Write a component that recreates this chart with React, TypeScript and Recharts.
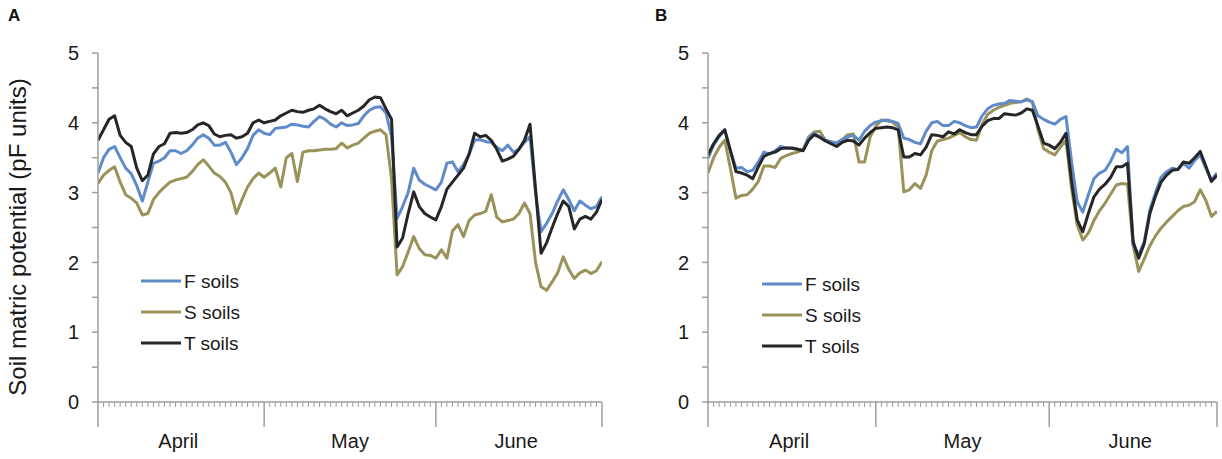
import { LineChart, Line, XAxis, YAxis } from "recharts";

// day index from 1 April (0) to 30 June (91)
const DAYS = [
  0, 1, 2, 3, 4, 5, 6, 7, 8, 9, 10, 11, 12, 13, 14, 15, 16, 17, 18, 19, 20, 21, 22, 23,
  24, 25, 26, 27, 28, 29, 30, 31, 32, 33, 34, 35, 36, 37, 38, 39, 40, 41, 42, 43, 44, 45,
  46, 47, 48, 49, 50, 51, 52, 53, 54, 55, 56, 57, 58, 59, 60, 61, 62, 63, 64, 65, 66, 67,
  68, 69, 70, 71, 72, 73, 74, 75, 76, 77, 78, 79, 80, 81, 82, 83, 84, 85, 86, 87, 88, 89,
  90, 91,
];

const MONTHS = ["April", "May", "June"];
const MONTH_EDGES = [0, 30, 61, 91];
const MONTH_LABEL_AT = [14.5, 45.5, 75.5];
const Y_TICKS = [0, 0.5, 1, 1.5, 2, 2.5, 3, 3.5, 4, 4.5, 5];

// Panel A
const A_F = [
  3.28, 3.5, 3.62, 3.66, 3.5, 3.35, 3.27, 3.1, 2.88, 3.15, 3.42, 3.45, 3.5, 3.6, 3.6, 3.56,
  3.6, 3.68, 3.78, 3.83, 3.78, 3.68, 3.68, 3.72, 3.58, 3.4, 3.5, 3.63, 3.82, 3.9, 3.85, 3.83,
  3.92, 3.93, 3.94, 3.98, 3.97, 3.95, 3.94, 4.02, 4.09, 4.05, 3.98, 3.94, 4.0, 3.96, 3.97,
  3.99, 4.1, 4.18, 4.22, 4.23, 4.14, 3.8, 2.63, 2.8, 3.0, 3.35, 3.18, 3.12, 3.08, 3.04, 3.15,
  3.42, 3.44, 3.3, 3.4, 3.55, 3.75, 3.76, 3.73, 3.72, 3.65, 3.6, 3.68, 3.58, 3.62, 3.72, 3.8,
  3.0, 2.44, 2.56, 2.7, 2.88, 3.04, 2.9, 2.74, 2.88, 2.82, 2.77, 2.8, 2.94,
];
const A_S = [
  3.13, 3.25, 3.32, 3.37, 3.15, 2.97, 2.92, 2.85, 2.68, 2.7, 2.9, 3.0, 3.08, 3.15, 3.18, 3.2,
  3.22, 3.3, 3.4, 3.47, 3.38, 3.28, 3.23, 3.15, 3.0, 2.7, 2.9, 3.08, 3.2, 3.28, 3.22, 3.28,
  3.35, 3.08, 3.5, 3.56, 3.16, 3.58, 3.6, 3.6, 3.61, 3.62, 3.62, 3.63, 3.71, 3.64, 3.68, 3.71,
  3.78, 3.85, 3.88, 3.9, 3.83, 3.2, 1.82, 1.94, 2.15, 2.37, 2.2, 2.11, 2.1, 2.06, 2.18, 2.06,
  2.45, 2.54, 2.37, 2.6, 2.68, 2.7, 2.73, 2.97, 2.65, 2.58, 2.6, 2.62, 2.7, 2.85, 2.7, 2.0,
  1.65, 1.6, 1.72, 1.85, 2.08, 1.9, 1.77, 1.85, 1.89, 1.84, 1.88, 2.01,
];
const A_T = [
  3.75, 3.9, 4.05, 4.1, 3.82, 3.72, 3.66, 3.35, 3.17, 3.25, 3.55, 3.66, 3.7, 3.85, 3.86, 3.85,
  3.86, 3.9, 3.97, 4.0, 3.96, 3.84, 3.8, 3.82, 3.83, 3.78, 3.8, 3.85, 4.0, 4.04, 4.0, 4.02,
  4.04, 4.1, 4.14, 4.18, 4.16, 4.15, 4.18, 4.2, 4.25, 4.2, 4.16, 4.13, 4.18, 4.1, 4.14, 4.18,
  4.24, 4.33, 4.37, 4.36, 4.2, 4.05, 2.22, 2.35, 2.7, 3.01, 2.8, 2.7, 2.65, 2.61, 2.8, 3.05,
  3.15, 3.25, 3.35, 3.55, 3.85, 3.8, 3.82, 3.75, 3.62, 3.45, 3.48, 3.52, 3.62, 3.75, 3.98,
  3.05, 2.13, 2.28, 2.5, 2.7, 2.88, 2.8, 2.48, 2.62, 2.66, 2.62, 2.72, 2.9,
];

// Panel B
const B_F = [
  3.49, 3.68, 3.8, 3.9, 3.6, 3.35, 3.36, 3.3, 3.32, 3.44, 3.58, 3.55, 3.6, 3.66, 3.64, 3.63,
  3.62, 3.61, 3.78, 3.85, 3.8, 3.75, 3.72, 3.71, 3.76, 3.8, 3.82, 3.75, 3.88, 3.96, 4.01, 4.03,
  4.04, 4.02, 3.99, 3.78, 3.76, 3.72, 3.7, 3.88, 4.0, 4.02, 3.96, 3.96, 4.02, 4.0, 3.96, 3.93,
  3.94, 4.1, 4.2, 4.25, 4.27, 4.28, 4.32, 4.31, 4.3, 4.33, 4.3, 4.1, 4.05, 4.01, 3.98, 4.05,
  4.09, 3.44, 2.87, 2.72, 2.97, 3.2, 3.28, 3.32, 3.45, 3.62, 3.57, 3.66, 2.25, 2.11, 2.3, 2.75,
  3.0, 3.22, 3.3, 3.35, 3.33, 3.42, 3.35, 3.46, 3.54, 3.35, 3.18, 3.28,
];
const B_S = [
  3.28, 3.5, 3.65, 3.75, 3.35, 2.92, 2.96, 2.97, 3.05, 3.16, 3.38, 3.38, 3.36, 3.49, 3.53,
  3.56, 3.58, 3.62, 3.8, 3.87, 3.88, 3.75, 3.73, 3.71, 3.76, 3.83, 3.84, 3.44, 3.44, 3.8, 3.95,
  4.04, 4.03, 4.01, 3.94, 3.01, 3.04, 3.13, 3.06, 3.25, 3.6, 3.74, 3.76, 3.78, 3.82, 3.86, 3.8,
  3.76, 3.75, 3.98, 4.12, 4.18, 4.22, 4.25, 4.28, 4.29, 4.3, 4.34, 4.3, 3.9, 3.63, 3.58, 3.54,
  3.65, 3.75, 3.06, 2.54, 2.32, 2.42, 2.6, 2.74, 2.85, 2.98, 3.11, 3.13, 3.12, 2.25, 1.87, 2.05,
  2.24, 2.38, 2.49, 2.58, 2.66, 2.74, 2.8, 2.82, 2.87, 3.04, 2.89, 2.66, 2.73,
];
const B_T = [
  3.54, 3.7, 3.82, 3.9, 3.6, 3.3, 3.28, 3.25, 3.2, 3.37, 3.52, 3.56, 3.58, 3.63, 3.64, 3.64,
  3.62, 3.6, 3.75, 3.83, 3.79, 3.74, 3.7, 3.66, 3.72, 3.75, 3.74, 3.68, 3.78, 3.86, 3.92, 3.93,
  3.94, 3.93, 3.9, 3.51, 3.51, 3.56, 3.54, 3.65, 3.83, 3.82, 3.8, 3.87, 3.84, 3.9, 3.86, 3.83,
  3.83, 3.95, 4.03, 4.06, 4.06, 4.13, 4.12, 4.11, 4.14, 4.2, 4.18, 3.95, 3.71, 3.68, 3.63, 3.72,
  3.85, 3.16, 2.61, 2.44, 2.7, 2.94, 3.05, 3.12, 3.22, 3.37, 3.37, 3.42, 2.3, 2.06, 2.27, 2.7,
  2.95, 3.15, 3.25, 3.32, 3.33, 3.44, 3.42, 3.5, 3.59, 3.38, 3.16, 3.25,
];

const COLORS = { F: "#5f8bcb", S: "#9a9258", T: "#262626" };
const AXIS = "#9e9e9e";
const FONT = "'Liberation Sans', Arial, sans-serif";

// S is drawn first so F and T sit on top of it
const DRAW_ORDER = ["S", "F", "T"] as const;
const LEGEND_ORDER = ["F", "S", "T"] as const;

// daily minor ticks plus the positions where month names are written
const X_TICKS = [...DAYS, ...MONTH_LABEL_AT].sort((a, b) => a - b);

const buildData = (f: number[], s: number[], t: number[]) =>
  DAYS.map((day, i) => ({ day, F: f[i], S: s[i], T: t[i] }));

const DATA_A = buildData(A_F, A_S, A_T);
const DATA_B = buildData(B_F, B_S, B_T);

// one tick per day; month boundaries get a long tick, month centres get the name
function DayTick(props: any) {
  const { x, y, payload } = props;
  const v = payload.value as number;
  const m = MONTH_LABEL_AT.indexOf(v);
  if (m >= 0) {
    return (
      <text x={x} y={y + 46} textAnchor="middle" fontSize={20} fontFamily={FONT} fill="#1a1a1a">
        {MONTHS[m]}
      </text>
    );
  }
  const edge = MONTH_EDGES.includes(v);
  return (
    <line
      x1={x}
      x2={x}
      y1={y}
      y2={y + (edge ? 25 : 5)}
      stroke={AXIS}
      strokeWidth={edge ? 1.5 : 1}
    />
  );
}

interface PanelProps {
  letter: string;
  data: ReturnType<typeof buildData>;
  left: number;
  yAxisWidth: number;
  rightMargin: number;
  legendX: number;
  legendY: number;
}

function Panel({ letter, data, left, yAxisWidth, rightMargin, legendX, legendY }: PanelProps) {
  return (
    <div style={{ position: "absolute", left, top: 0, width: 611, height: 459 }}>
      <div
        style={{
          position: "absolute",
          left: left === 0 ? 8 : 44,
          top: 6,
          fontWeight: "bold",
          fontSize: 17,
          fontFamily: FONT,
          color: "#111",
        }}
      >
        {letter}
      </div>
      <LineChart
        width={611}
        height={459}
        data={data}
        margin={{ top: 53, right: rightMargin, left: 0, bottom: 0 }}
      >
        <XAxis
          dataKey="day"
          type="number"
          domain={[0, 91]}
          allowDataOverflow
          ticks={X_TICKS}
          interval={0}
          tick={<DayTick />}
          tickLine={false}
          tickSize={0}
          tickMargin={0}
          height={57}
          stroke={AXIS}
          strokeWidth={1.5}
        />
        <YAxis
          type="number"
          domain={[0, 5]}
          ticks={Y_TICKS}
          interval={0}
          width={yAxisWidth}
          tickSize={6}
          tickMargin={13}
          stroke={AXIS}
          strokeWidth={1.5}
          tickFormatter={(v: number) => (Number.isInteger(v) ? String(v) : "")}
          tick={{ fontSize: 20, fill: "#1a1a1a", fontFamily: FONT }}
        />
        {DRAW_ORDER.map((key) => (
          <Line
            key={key}
            type="linear"
            dataKey={key}
            stroke={COLORS[key]}
            strokeWidth={3}
            strokeLinejoin="round"
            dot={false}
            activeDot={false}
            isAnimationActive={false}
          />
        ))}
      </LineChart>
      <svg
        width={160}
        height={100}
        style={{ position: "absolute", left: legendX, top: legendY }}
      >
        {LEGEND_ORDER.map((key, i) => (
          <g key={key} transform={`translate(0, ${i * 31 + 12})`}>
            <line x1={0} x2={40} y1={0} y2={0} stroke={COLORS[key]} strokeWidth={3} />
            <text x={43} y={7} fontSize={19} fontFamily={FONT} fill="#1a1a1a">
              {`${key} soils`}
            </text>
          </g>
        ))}
      </svg>
    </div>
  );
}

export default function App() {
  return (
    <div
      style={{
        position: "absolute",
        left: 0,
        top: 0,
        width: 1222,
        height: 459,
        background: "#fff",
        fontFamily: FONT,
      }}
    >
      <Panel
        letter="A"
        data={DATA_A}
        left={0}
        yAxisWidth={98}
        rightMargin={9}
        legendX={141}
        legendY={269}
      />
      <Panel
        letter="B"
        data={DATA_B}
        left={611}
        yAxisWidth={97}
        rightMargin={5}
        legendX={151}
        legendY={272}
      />
      <div
        style={{
          position: "absolute",
          left: 18,
          top: 237,
          transform: "translate(-50%, -50%) rotate(-90deg)",
          whiteSpace: "nowrap",
          fontSize: 24,
          color: "#1a1a1a",
        }}
      >
        Soil matric potential (pF units)
      </div>
    </div>
  );
}
